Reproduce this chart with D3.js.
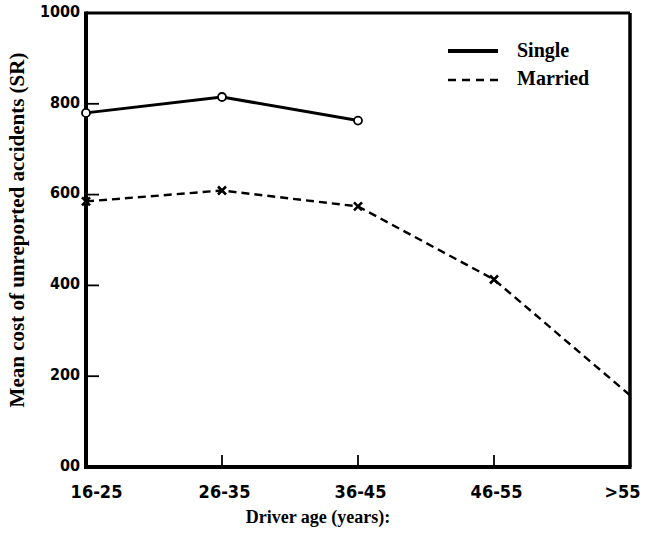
<!DOCTYPE html>
<html>
<head>
<meta charset="utf-8">
<script src="https://cdn.jsdelivr.net/npm/d3@7"></script>
<style>
  html, body { margin: 0; padding: 0; background: #fff; }
  svg { display: block; }
</style>
</head>
<body>
<svg id="chart" width="645" height="545"></svg>
<script>
// ---- data ----
const ages = ["16-25", "26-35", "36-45", "46-55", ">55"];
const singleValues = [780, 815, 763];
const marriedValues = [585, 609, 574, 413, 158];
const yTickValues = [0, 200, 400, 600, 800, 1000];
const yTickLabels = ["00", "200", "400", "600", "800", "1000"];
const seriesNames = ["Single", "Married"];

const svg = d3.select("#chart");
const W = 645, H = 545;
svg.append("rect").attr("width", W).attr("height", H).attr("fill", "#fff");

const x = d3.scalePoint().domain(ages).range([86, 630]);
const y = d3.scaleLinear().domain([0, 1000]).range([467, 13]);

const tickFont = "'DejaVu Sans Condensed', 'DejaVu Sans', sans-serif";
const serif = "'Liberation Serif', 'DejaVu Serif', serif";

// frame (top/right)
const [x0, x1] = x.range();
const [yb, yt] = y.range();
svg.append("line").attr("x1", x0).attr("x2", x1).attr("y1", yt).attr("y2", yt)
  .attr("stroke", "#000").attr("stroke-width", 3);
svg.append("line").attr("x1", x1).attr("x2", x1).attr("y1", yt).attr("y2", yb)
  .attr("stroke", "#000").attr("stroke-width", 3.5);

// y axis
const yAxis = d3.axisLeft(y)
  .tickValues(yTickValues)
  .tickSize(0)
  .tickPadding(6)
  .tickFormat((d, i) => yTickLabels[i]);
const gy = svg.append("g").attr("transform", `translate(${x0},0)`).call(yAxis);
gy.select(".domain").remove();
gy.selectAll("text")
  .attr("font-family", tickFont).attr("font-weight", "bold").attr("font-size", 16)
  .attr("fill", "#000").attr("dy", "0.2em");
// inward y ticks
svg.append("g").selectAll("line")
  .data(yTickValues.filter(v => v > 0 && v < 1000))
  .join("line")
  .attr("x1", x0).attr("x2", x0 + 13)
  .attr("y1", d => y(d)).attr("y2", d => y(d))
  .attr("stroke", "#000").attr("stroke-width", 1.8);

// x axis
const xAxis = d3.axisBottom(x).tickSize(0).tickPadding(18);
const gx = svg.append("g").attr("transform", `translate(0,${yb})`).call(xAxis);
gx.select(".domain").remove();
gx.selectAll("text")
  .attr("font-family", tickFont).attr("font-weight", "bold").attr("font-size", 18)
  .attr("fill", "#000")
  .attr("dx", (d, i) => i === 0 ? 10 : (i === ages.length - 1 ? -8 : 2));
// inward x ticks
svg.append("g").selectAll("line")
  .data(ages.slice(1, -1))
  .join("line")
  .attr("x1", d => x(d)).attr("x2", d => x(d))
  .attr("y1", yb).attr("y2", yb - 12)
  .attr("stroke", "#000").attr("stroke-width", 1.8);

// axis lines (left, bottom)
svg.append("line").attr("x1", x0).attr("x2", x0).attr("y1", yt - 1.5).attr("y2", yb + 2)
  .attr("stroke", "#000").attr("stroke-width", 4);
svg.append("line").attr("x1", x0 - 2).attr("x2", x1 + 1.5).attr("y1", yb).attr("y2", yb)
  .attr("stroke", "#000").attr("stroke-width", 4);

// lines
const line = d3.line().x(d => x(d.age)).y(d => y(d.v));
const singleData = singleValues.map((v, i) => ({ age: ages[i], v }));
const marriedData = marriedValues.map((v, i) => ({ age: ages[i], v }));

svg.append("path").datum(marriedData).attr("d", line)
  .attr("fill", "none").attr("stroke", "#000").attr("stroke-width", 2.4)
  .attr("stroke-dasharray", "8,5");
svg.append("path").datum(singleData).attr("d", line)
  .attr("fill", "none").attr("stroke", "#000").attr("stroke-width", 3);

// markers: single (open circles)
svg.append("g").selectAll("circle").data(singleData).join("circle")
  .attr("cx", d => x(d.age)).attr("cy", d => y(d.v)).attr("r", 4)
  .attr("fill", "#fff").attr("stroke", "#000").attr("stroke-width", 1.8);

// markers: married (crosses), except last which meets the frame
const s = 4;
svg.append("g").selectAll("path").data(marriedData.slice(0, -1)).join("path")
  .attr("d", d => {
    const cx = x(d.age), cy = y(d.v);
    return `M${cx - s},${cy - s}L${cx + s},${cy + s}M${cx - s},${cy + s}L${cx + s},${cy - s}`;
  })
  .attr("stroke", "#000").attr("stroke-width", 2.6).attr("fill", "none");

// legend
const lg = svg.append("g");
lg.append("line").attr("x1", 448).attr("x2", 498).attr("y1", 51).attr("y2", 51)
  .attr("stroke", "#000").attr("stroke-width", 4);
lg.append("line").attr("x1", 448).attr("x2", 498).attr("y1", 80).attr("y2", 80)
  .attr("stroke", "#000").attr("stroke-width", 2.4).attr("stroke-dasharray", "8,6");
lg.selectAll("text").data(seriesNames).join("text")
  .attr("x", 517).attr("y", (d, i) => 57 + i * 28)
  .attr("font-family", serif).attr("font-weight", "bold").attr("font-size", 20)
  .attr("fill", "#000")
  .text(d => d);

// axis titles
svg.append("text")
  .attr("x", 318).attr("y", 523)
  .attr("text-anchor", "middle")
  .attr("font-family", serif).attr("font-weight", "bold").attr("font-size", 18)
  .text("Driver age (years):");
svg.append("text")
  .attr("transform", "translate(24,230) rotate(-90)")
  .attr("text-anchor", "middle")
  .attr("font-family", serif).attr("font-weight", "bold").attr("font-size", 21)
  .text("Mean cost of unreported accidents (SR)");
</script>
</body>
</html>
